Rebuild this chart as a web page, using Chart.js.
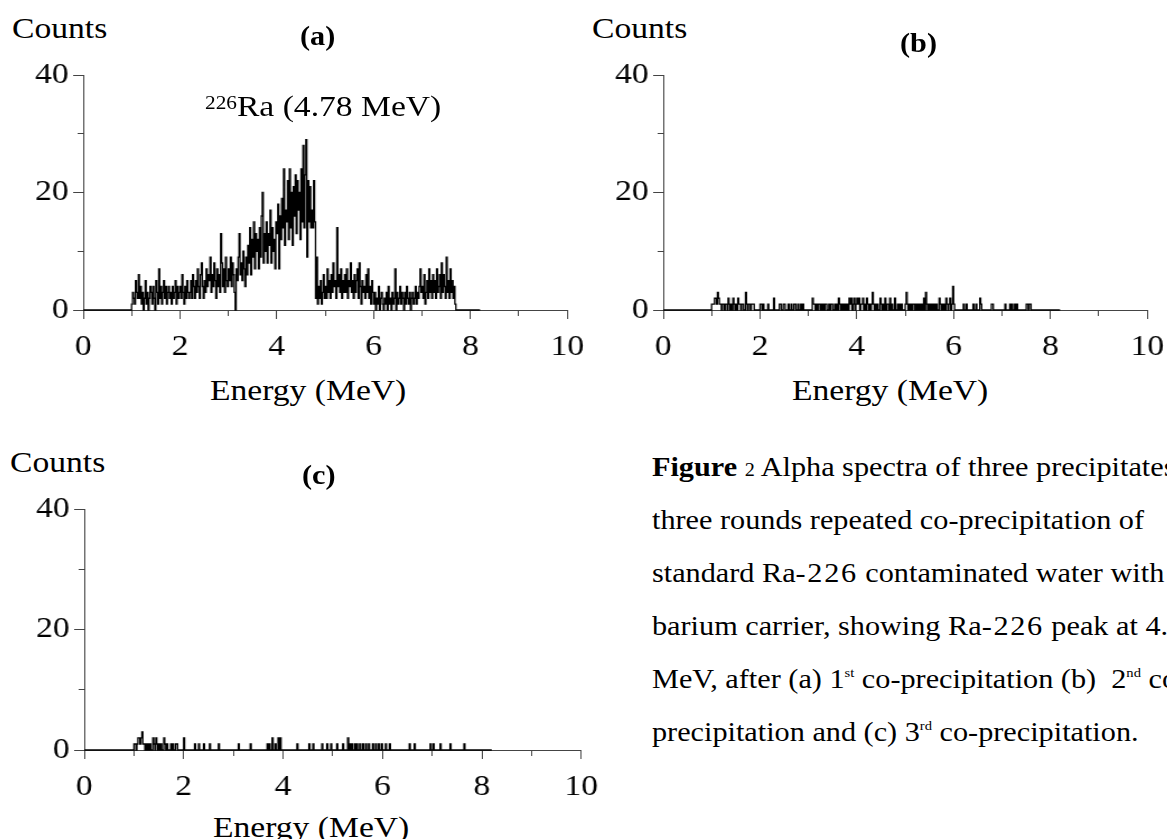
<!DOCTYPE html>
<html lang="en">
<head>
<meta charset="utf-8">
<title>Alpha spectra of three precipitates</title>
<script src="https://cdn.jsdelivr.net/npm/chart.js@4.4.1/dist/chart.umd.min.js"></script>
<style>
  html, body { margin: 0; padding: 0; background: #fff; }
  body {
    position: relative; width: 1167px; height: 839px; overflow: hidden;
    font-family: "Liberation Serif", "Times New Roman", serif; color: #000;
  }
  canvas { position: absolute; transform: scaleX(1.12); transform-origin: 0 0; }
  .t {
    position: absolute; white-space: nowrap; line-height: 1;
    transform: scaleX(1.12); transform-origin: 0 0;
  }
  .axis-name { font-size: 30px; }
  .tag { font-size: 27px; font-weight: bold; }
  .peak { font-size: 30px; }
  .peak sup { font-size: 19px; vertical-align: baseline; position: relative; top: -7px; }
  .caption { font-size: 27px; }
  .caption sup { font-size: 13px; vertical-align: baseline; position: relative; top: -11px; }
  .caption .no { font-size: 18px; }
  .caption .num { letter-spacing: 1.5px; }
</style>
</head>
<body>

<canvas id="spectrumA"></canvas>
<canvas id="spectrumB"></canvas>
<canvas id="spectrumC"></canvas>

<!-- panel (a) -->
<div class="t axis-name" style="left:12px;top:13px">Counts</div>
<div class="t tag" style="left:300px;top:23px">(a)</div>
<div class="t peak" style="left:205px;top:91px"><sup>226</sup>Ra (4.78 MeV)</div>
<div class="t axis-name" style="left:210px;top:375px">Energy (MeV)</div>

<!-- panel (b) -->
<div class="t axis-name" style="left:592px;top:13px">Counts</div>
<div class="t tag" style="left:900px;top:30px">(b)</div>
<div class="t axis-name" style="left:792px;top:375px">Energy (MeV)</div>

<!-- panel (c) -->
<div class="t axis-name" style="left:10px;top:447px">Counts</div>
<div class="t tag" style="left:302px;top:462px">(c)</div>
<div class="t axis-name" style="left:213px;top:812px">Energy (MeV)</div>

<!-- caption -->
<div class="t caption" style="left:652px;top:454px"><b>Figure</b> <span class="no">2</span> Alpha spectra of three precipitates</div>
<div class="t caption" style="left:652px;top:507px">three rounds repeated co-precipitation of</div>
<div class="t caption" style="left:652px;top:560px">standard Ra<span class="num">-226</span> contaminated water with</div>
<div class="t caption" style="left:652px;top:613px">barium carrier, showing Ra<span class="num">-226</span> peak at 4.78</div>
<div class="t caption" style="left:652px;top:666px">MeV, after (a) 1<sup>st</sup> co-precipitation (b)&nbsp; 2<sup>nd</sup> co-precipitation</div>
<div class="t caption" style="left:652px;top:719px">precipitation and (c) 3<sup>rd</sup> co-precipitation.</div>

<script>
// analyser channel width and end of the recorded range, MeV
const CHANNEL = 0.02;
const BASELINE_END = 8.2;

const energyRange = [0, 10];
const countRange = [0, 40];
const energyTickLabels = [0, 2, 4, 6, 8, 10];
const countTickLabels = [0, 20, 40];

// (a) after 1st co-precipitation: counts per channel, first channel at 1.00 MeV
const startA = 1.00;
const countsA = [
  1, 3, 2, 1, 5, 3, 2, 6, 2, 4,        // 1.00
  1, 3, 0, 2, 5, 1, 3, 0, 2, 4,        // 1.20
  3, 1, 4, 2, 0, 5, 3, 1, 7, 2,        // 1.40
  4, 1, 3, 5, 2, 4, 1, 3, 4, 2,        // 1.60
  3, 1, 4, 2, 3, 5, 1, 4, 2, 3,        // 1.80
  4, 2, 6, 3, 1, 4, 2, 5, 3, 2,        // 2.00
  3, 5, 2, 6, 4, 2, 5, 3, 7, 4,        // 2.20
  2, 6, 8, 4, 2, 5, 3, 7, 4, 6,        // 2.40
  5, 9, 3, 6, 4, 8, 5, 2, 7, 4,        // 2.60
  6, 3, 13, 8, 4, 7, 3, 9, 5, 4,       // 2.80
  7, 5, 9, 4, 8, 6, 3, 0, 7, 5,        // 3.00
  9, 13, 6, 8, 5, 10, 7, 4, 9, 6,      // 3.20
  11, 8, 14, 6, 12, 9, 15, 7, 13, 10,  // 3.40
  12, 7, 14, 9, 16, 20, 8, 13, 10, 15, // 3.60
  8, 13, 11, 17, 8, 14, 10, 12, 7, 15, // 3.80
  13, 18, 7, 16, 12, 19, 14, 24, 11, 17, // 4.00
  15, 22, 12, 24, 14, 20, 11, 21, 16, 23, // 4.20
  13, 22, 17, 20, 12, 24, 15, 28, 14, 23, // 4.40
  29, 9, 22, 15, 21, 14, 17, 14, 22, 15,  // 4.60
  2, 9, 1, 4, 2, 5, 1, 3, 6, 2,        // 4.80
  4, 2, 7, 3, 5, 2, 6, 3, 8, 4,        // 5.00
  5, 2, 14, 4, 6, 3, 7, 2, 5, 3,       // 5.20
  6, 3, 7, 2, 5, 4, 8, 3, 5, 2,        // 5.40
  6, 3, 5, 7, 2, 8, 4, 1, 5, 3,        // 5.60
  4, 2, 6, 3, 7, 2, 4, 1, 5, 3,        // 5.80
  1, 3, 0, 2, 1, 4, 0, 2, 3, 1,        // 6.00
  0, 2, 1, 3, 0, 4, 1, 2, 0, 3,        // 6.20
  1, 2, 7, 0, 3, 1, 2, 4, 1, 3,        // 6.40
  2, 0, 3, 1, 4, 2, 1, 3, 0, 2,        // 6.60
  3, 1, 2, 4, 1, 3, 2, 4, 7, 3,        // 6.80
  4, 2, 6, 1, 3, 5, 2, 7, 3, 5,        // 7.00
  2, 6, 3, 5, 2, 7, 3, 4, 6, 2,        // 7.20
  8, 3, 6, 4, 2, 9, 3, 5, 2, 7,        // 7.40
  3, 5, 2, 4, 1, 0                     // 7.60
];

// (b) after 2nd co-precipitation: only the channels that registered counts
const energiesB = [
  1.00, 1.02, 1.04, 1.06, 1.08, 1.10, 1.12, 1.14, 1.16, 1.18, 1.22, 1.24, 1.28, 1.30, 1.34, 1.36,
  1.40, 1.44, 1.46, 1.50, 1.54, 1.56, 1.58, 1.62, 1.64, 1.70, 1.72, 1.76, 1.78, 1.82, 1.84, 1.86,
  2.00, 2.02, 2.06, 2.16, 2.28, 2.40, 2.42, 2.48, 2.50, 2.58, 2.64, 2.70, 2.72, 2.78, 2.84, 2.88,
  3.08, 3.10, 3.12, 3.16, 3.20, 3.22, 3.26, 3.30, 3.34, 3.36, 3.42, 3.46, 3.48, 3.54,
  3.58, 3.62, 3.64, 3.68, 3.72, 3.76, 3.80, 3.84, 3.86, 3.88, 3.92, 3.94, 3.98,
  4.00, 4.02, 4.04, 4.08, 4.10, 4.12, 4.16, 4.20, 4.22, 4.26, 4.30, 4.32, 4.34, 4.38,
  4.42, 4.48, 4.50, 4.54, 4.58, 4.62, 4.64, 4.68, 4.72, 4.78, 4.84, 4.88, 4.92,
  5.00, 5.02, 5.04, 5.08, 5.12, 5.16, 5.18, 5.22, 5.26, 5.30, 5.34, 5.38, 5.42, 5.44, 5.48,
  5.52, 5.56, 5.60, 5.64, 5.70, 5.72, 5.76, 5.80, 5.84, 5.86, 5.90, 5.92, 5.96, 5.98, 6.00,
  6.20, 6.26, 6.40, 6.46, 6.54, 6.56, 6.78, 6.80, 7.06, 7.16, 7.20, 7.26, 7.30, 7.50, 7.52, 7.56, 7.58
];
const countsB = [
  1, 1, 1, 2, 2, 1, 3, 2, 1, 1, 1, 1, 1, 1, 2, 1,
  1, 2, 1, 1, 2, 1, 1, 1, 1, 3, 1, 1, 1, 1, 1, 1,
  1, 1, 1, 1, 2, 1, 1, 1, 1, 1, 1, 1, 1, 1, 1, 1,
  2, 1, 1, 1, 1, 1, 1, 1, 1, 1, 1, 1, 1, 1,
  1, 2, 1, 1, 1, 1, 1, 2, 1, 2, 1, 2, 1,
  2, 1, 2, 1, 1, 2, 1, 2, 1, 1, 1, 3, 1, 1,
  1, 2, 1, 1, 2, 1, 1, 2, 1, 2, 1, 1, 1,
  1, 3, 1, 1, 1, 1, 1, 1, 1, 1, 1, 2, 3, 1, 1,
  1, 1, 1, 1, 2, 1, 1, 1, 2, 1, 1, 2, 1, 4, 1,
  1, 1, 1, 1, 2, 1, 1, 1, 1, 1, 1, 1, 1, 1, 1, 1, 1
];

// (c) after 3rd co-precipitation: only the channels that registered counts
const energiesC = [
  1.00, 1.02, 1.06, 1.08, 1.10, 1.12, 1.14, 1.16, 1.18, 1.20, 1.24, 1.28, 1.32,
  1.38, 1.40, 1.44, 1.46, 1.50, 1.54, 1.60, 1.62, 1.66, 1.74, 1.78, 1.84, 1.86,
  2.00, 2.22, 2.30, 2.40, 2.52, 2.70, 3.10, 3.34,
  3.68, 3.72, 3.78, 3.84, 3.90, 3.94, 4.28, 4.52, 4.60, 4.78, 4.88, 4.96,
  5.08, 5.20, 5.30, 5.34, 5.38, 5.44, 5.48, 5.54, 5.60, 5.66, 5.72, 5.80, 5.86, 5.92, 5.98, 6.06, 6.14,
  6.54, 6.64, 6.96, 7.02, 7.16, 7.36, 7.64
];
const countsC = [
  1, 1, 1, 2, 2, 1, 2, 3, 1, 1, 1, 1, 1,
  2, 1, 2, 1, 1, 1, 2, 1, 1, 1, 1, 1, 1,
  2, 1, 1, 1, 1, 1, 1, 1,
  1, 1, 2, 1, 2, 2, 1, 1, 1, 1, 1, 1,
  1, 1, 2, 1, 1, 1, 1, 1, 1, 1, 1, 1, 1, 1, 1, 1, 1,
  1, 1, 1, 1, 1, 1, 1
];

// ---- layout -------------------------------------------------------------
const SX = 1.12;                 // the whole figure is drawn a little wide
const Y_AXIS_W = 60, X_AXIS_H = 60, PAD_TOP = 30, PAD_RIGHT = 30;
const frames = {
  a: { left: 83, right: 567, top: 75, bottom: 310 },
  b: { left: 663, right: 1147, top: 75, bottom: 310 },
  c: { left: 84, right: 581, top: 509, bottom: 750 }
};
const FONT = { family: '"Liberation Serif", "Times New Roman", serif', size: 30 };
const AXIS_COLOR = '#444';

// Turn a channel list into step-line points: baseline from 0 MeV,
// each channel holds its count for one channel width, back to 0 in gaps.
function spectrumPoints(energies, counts) {
  const pts = [{ x: 0, y: 0 }];
  energies.forEach((e, i) => {
    pts.push({ x: e, y: counts[i] });
    const next = energies[i + 1];
    if (next === undefined || next - e > CHANNEL + 1e-6) {
      pts.push({ x: +(e + CHANNEL).toFixed(2), y: 0 });
    }
  });
  pts.push({ x: BASELINE_END, y: 0 });
  return pts;
}

const energiesA = countsA.map((_, i) => +(startA + i * CHANNEL).toFixed(2));

function drawPanel(canvasId, frame, points) {
  const canvas = document.getElementById(canvasId);
  const plotW = (frame.right - frame.left) / SX;
  const plotH = frame.bottom - frame.top;
  const width = Math.ceil(Y_AXIS_W + plotW + PAD_RIGHT);
  canvas.width = width;
  canvas.height = PAD_TOP + plotH + X_AXIS_H;
  canvas.style.left = (frame.left - Y_AXIS_W * SX) + 'px';
  canvas.style.top = (frame.top - PAD_TOP) + 'px';

  return new Chart(canvas, {
    type: 'line',
    data: {
      datasets: [{
        data: points,
        borderColor: '#000',
        borderWidth: 1.3,
        pointRadius: 0,
        stepped: true,
        fill: false,
        clip: false
      }]
    },
    options: {
      responsive: false,
      animation: false,
      devicePixelRatio: 1,
      events: [],
      layout: { padding: { top: PAD_TOP, right: width - Y_AXIS_W - plotW, left: 0, bottom: 0 } },
      plugins: { legend: { display: false }, tooltip: { enabled: false } },
      scales: {
        x: {
          type: 'linear',
          min: energyRange[0], max: energyRange[1],
          afterFit: s => { s.height = X_AXIS_H; },
          border: { display: true, color: AXIS_COLOR, width: 1 },
          grid: {
            drawOnChartArea: false, drawTicks: true, tickLength: 9,
            tickColor: AXIS_COLOR, tickWidth: 1,
            // odd MeV values get half-length ticks
            tickBorderDash: c => (c.tick && !energyTickLabels.includes(c.tick.value)) ? [5, 20] : []
          },
          ticks: {
            stepSize: 1, autoSkip: false, maxRotation: 0, minRotation: 0,
            padding: 10, color: '#000', font: FONT,
            callback: v => energyTickLabels.includes(v) ? String(v) : ''
          }
        },
        y: {
          type: 'linear',
          min: countRange[0], max: countRange[1],
          afterFit: s => { s.width = Y_AXIS_W; },
          border: { display: true, color: AXIS_COLOR, width: 1 },
          grid: {
            drawOnChartArea: false, drawTicks: true, tickLength: 9,
            tickColor: AXIS_COLOR, tickWidth: 1,
            // left ticks run outside-in, so skip the outer part for 10 and 30
            tickBorderDash: c => (c.tick && !countTickLabels.includes(c.tick.value)) ? [0, 4, 5, 20] : []
          },
          ticks: {
            stepSize: 10, autoSkip: false, padding: 4, color: '#000', font: FONT,
            callback: v => countTickLabels.includes(v) ? String(v) : ''
          }
        }
      }
    }
  });
}

drawPanel('spectrumA', frames.a, spectrumPoints(energiesA, countsA));
drawPanel('spectrumB', frames.b, spectrumPoints(energiesB, countsB));
drawPanel('spectrumC', frames.c, spectrumPoints(energiesC, countsC));
</script>
</body>
</html>
